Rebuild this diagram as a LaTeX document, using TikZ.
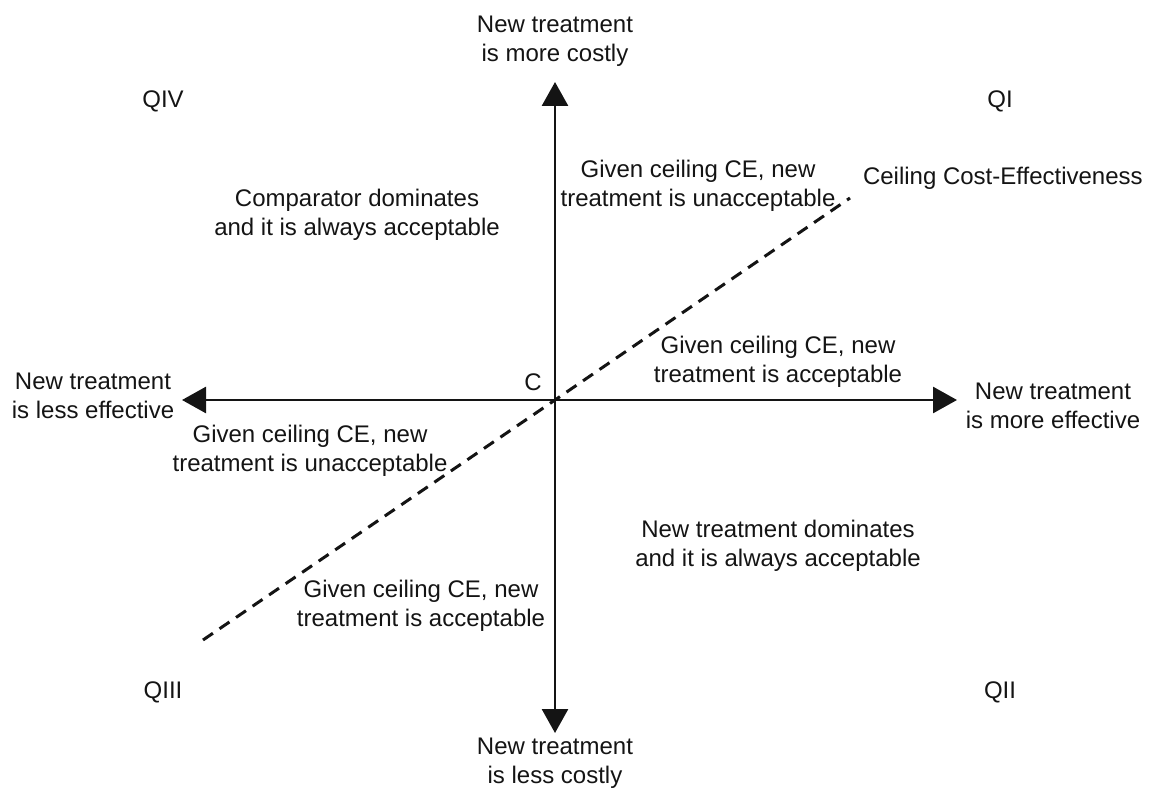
\documentclass[tikz,border=0pt]{standalone}
\usepackage{fontspec}
\setmainfont{Liberation Sans}
\usetikzlibrary{arrows.meta}
\begin{document}
\begin{tikzpicture}[x=1pt,y=-1pt,
  lbl/.style={inner sep=0pt,outer sep=0pt,align=center,anchor=base,
    font=\fontsize{24}{29}\selectfont,text=black!92},
  axis/.style={line width=2.8pt,draw=black!92,
    {Triangle[width=26pt,length=24pt]}-{Triangle[width=26pt,length=24pt]}},
  ceiling/.style={line width=3pt,draw=black!92,dash pattern=on 12pt off 8pt}]
  \useasboundingbox (0,0) rectangle (1151,794);

  % axes end points and origin
  \coordinate (O) at (555,400);
  \coordinate (top) at (555,82);
  \coordinate (bottom) at (555,733);
  \coordinate (left) at (182,400);
  \coordinate (right) at (957,400);
  % ceiling cost-effectiveness line through the origin
  \coordinate (ceLow) at (203,640);
  \coordinate (ceHigh) at (850,198);

  \draw[axis] (bottom) -- (top);
  \draw[axis] (left) -- (right);
  \draw[ceiling] (ceLow) -- (O) -- (ceHigh);

  % axis labels (two-line nodes sit on the baseline of their last line)
  \node[lbl] (costly) at (555,62) {New treatment\\is more costly};
  \node[lbl] (lesscostly) at (555,783) {New treatment\\is less costly};
  \node[lbl] (lesseff) at (93,418) {New treatment\\is less effective};
  \node[lbl] (moreeff) at (1053,428) {New treatment\\is more effective};
  \node[lbl] (origin) at (533,390) {C};

  % quadrant names
  \node[lbl] (q4) at (163,108) {QIV};
  \node[lbl] (q1) at (1000,108) {QI};
  \node[lbl] (q3) at (163,698) {QIII};
  \node[lbl] (q2) at (1000,698) {QII};

  % region descriptions
  \node[lbl] (ceiling) [anchor=base west] at (863,185) {Ceiling Cost-Effectiveness};
  \node[lbl] (q1upper) at (698,207) {Given ceiling CE, new\\treatment is unacceptable};
  \node[lbl] (q1lower) at (778,382) {Given ceiling CE, new\\treatment is acceptable};
  \node[lbl] (q4text) at (357,236) {Comparator dominates\\and it is always acceptable};
  \node[lbl] (q3upper) at (310,471) {Given ceiling CE, new\\treatment is unacceptable};
  \node[lbl] (q3lower) at (421,626) {Given ceiling CE, new\\treatment is acceptable};
  \node[lbl] (q2text) at (778,566) {New treatment dominates\\and it is always acceptable};
\end{tikzpicture}
\end{document}
